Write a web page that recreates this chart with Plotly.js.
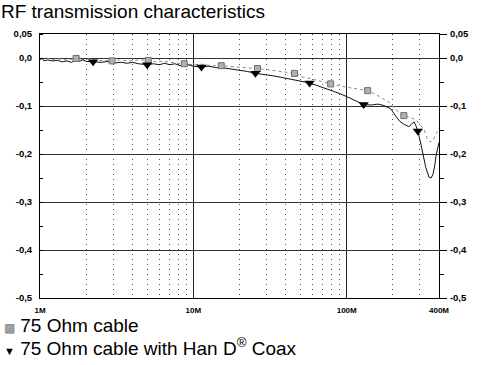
<!DOCTYPE html>
<html>
<head>
<meta charset="utf-8">
<script src="https://cdn.plot.ly/plotly-3.0.1.min.js"></script>
<style>html,body{margin:0;padding:0;background:#fff;}#chart{width:481px;height:365px;}</style>
</head>
<body>
<div id="chart"></div>
<script>
// Frequencies in MHz, attenuation in dB
const coaxFreq = [1.00,1.03,1.06,1.12,1.2,1.3,1.4,1.5,1.6,1.7,1.8,1.9,2.0,2.2,2.5,2.8,3.1,3.4,3.7,4.0,4.4,5.0,5.5,6.0,6.5,7.0,7.6,8.2,9.0,10,11.3,12.5,14,16,18,20,22.5,25.4,29,33,37,41,47,57.3,65,78.6,90,101,115,129,145,160,175,194,209,222,236,254,265,274,282,291,305,314,328,344,355,365,375,382,392,400];
const coaxDb = [-0.004,0.000,-0.006,-0.004,-0.006,-0.005,-0.008,-0.006,-0.009,-0.005,-0.007,-0.004,-0.007,-0.008,-0.009,-0.007,-0.010,-0.009,-0.011,-0.009,-0.012,-0.014,-0.012,-0.014,-0.011,-0.014,-0.012,-0.016,-0.013,-0.017,-0.019,-0.017,-0.020,-0.021,-0.023,-0.025,-0.028,-0.032,-0.034,-0.037,-0.040,-0.043,-0.047,-0.052,-0.058,-0.067,-0.074,-0.081,-0.089,-0.097,-0.098,-0.096,-0.099,-0.106,-0.121,-0.132,-0.138,-0.143,-0.138,-0.133,-0.140,-0.152,-0.180,-0.198,-0.228,-0.248,-0.250,-0.243,-0.225,-0.205,-0.185,-0.176];
const coaxMarkFreq = [2.22,5.0,11.3,25.4,57.3,129,291];
const coaxMarkDb = [-0.008,-0.014,-0.019,-0.032,-0.052,-0.097,-0.152];

const cableFreq = [1.0,1.1,1.2,1.35,1.5,1.72,1.9,2.1,2.4,2.95,3.3,3.8,4.4,5.08,5.7,6.5,7.5,8.73,10,11.5,13,15.2,18,21,26.2,30,35,40,45.7,52,60,70,78.6,90,105,120,137,155,170,190,210,236,260,280,300,320,335,350,365,380,392,400];
const cableDb = [-0.001,0.000,-0.003,-0.002,-0.004,-0.001,-0.003,-0.002,-0.005,-0.006,-0.004,-0.006,-0.004,-0.005,-0.008,-0.007,-0.010,-0.012,-0.014,-0.013,-0.016,-0.016,-0.018,-0.020,-0.022,-0.024,-0.027,-0.029,-0.032,-0.040,-0.044,-0.050,-0.054,-0.058,-0.062,-0.065,-0.068,-0.076,-0.083,-0.093,-0.108,-0.120,-0.124,-0.128,-0.138,-0.150,-0.168,-0.175,-0.172,-0.160,-0.150,-0.146];
const cableMarkFreq = [1.72,2.95,5.08,8.73,15.2,26.2,45.7,78.6,137,236];
const cableMarkDb = [-0.001,-0.006,-0.005,-0.012,-0.016,-0.022,-0.032,-0.054,-0.068,-0.120];

const xTickVals = [1,10,100,400];
const xTickText = ['1M','10M','100M','400M'];
const xMinorVals = [2,3,4,5,6,7,8,9,20,30,40,50,60,70,80,90,200,300];
const yTickVals = [0.05,0,-0.1,-0.2,-0.3,-0.4,-0.5];
const yTickText = ['0,05','0,0','-0,1','-0,2','-0,3','-0,4','-0,5'];

const seriesNames = ['75 Ohm cable','75 Ohm cable with Han D<sup>®</sup> Coax'];
const titleText = 'RF transmission characteristics';

const FONT = 'Liberation Sans, Arial, sans-serif';

const traces = [
  {x: cableFreq, y: cableDb, type:'scatter', mode:'lines', line:{color:'#8a8a8a', width:1, dash:'dot'}, showlegend:false, hoverinfo:'skip'},
  {x: coaxFreq, y: coaxDb, type:'scatter', mode:'lines', line:{color:'#111', width:1}, showlegend:false, hoverinfo:'skip'},
  {x: cableMarkFreq, y: cableMarkDb, type:'scatter', mode:'markers', yaxis:'y2', name: seriesNames[0],
   marker:{symbol:'square', size:6, color:'#b0b0b0', line:{color:'#6e6e6e', width:1}}, showlegend:false},
  {x: coaxMarkFreq, y: coaxMarkDb, type:'scatter', mode:'markers', yaxis:'y2', name: seriesNames[1],
   marker:{symbol:'triangle-down', size:9, color:'#000', line:{width:0}}, showlegend:false}
];

const yCommon = {
  range:[-0.5,0.05], autorange:false, tickmode:'array', tickvals:yTickVals, ticktext:yTickText,
  tickfont:{family:FONT, size:9.5, color:'#000', weight:'bold'}, zeroline:false, fixedrange:true
};

const layout = {
  width:481, height:365,
  margin:{l:40, r:42, t:34, b:67, pad:0},
  paper_bgcolor:'#fff', plot_bgcolor:'#fff',
  font:{family:FONT, color:'#000'},
  showlegend:false,
  title:{text:titleText, font:{family:FONT, size:19, color:'#000'}, x:0.002, xref:'container', xanchor:'left', y:0.97, yref:'container', yanchor:'middle'},
  xaxis:{
    type:'log', range:[0, Math.log10(400)], autorange:false,
    tickmode:'array', tickvals:xTickVals, ticktext:xTickText,
    tickfont:{family:FONT, size:8, color:'#000', weight:'bold'},
    ticks:'', ticklabelstandoff:4,
    showgrid:true, gridcolor:'#222', gridwidth:1,
    showline:true, linecolor:'#000', linewidth:1, mirror:true,
    minor:{tickmode:'array', tickvals:xMinorVals, showgrid:true, gridcolor:'#555', gridwidth:1, griddash:'1px,4px', ticks:''},
    zeroline:false, fixedrange:true
  },
  yaxis:Object.assign({}, yCommon, {
    side:'left', ticks:'', ticklabelstandoff:5,
    showgrid:true, gridcolor:'#333', gridwidth:1,
    showline:true, linecolor:'#000', linewidth:1, mirror:true,
    minor:{tickmode:'linear', tick0:0, dtick:0.05, ticks:'inside', ticklen:3, tickcolor:'#000', showgrid:false}
  }),
  yaxis2:Object.assign({}, yCommon, {
    overlaying:'y', side:'right', matches:'y',
    ticks:'outside', ticklen:7, tickcolor:'#000', tickwidth:1, ticklabelstandoff:1,
    showgrid:false, showline:false,
    minor:{tickmode:'linear', tick0:0, dtick:0.05, ticks:'outside', ticklen:4, tickcolor:'#000', showgrid:false}
  }),
  annotations:[
    {xref:'paper', yref:'paper', x:-0.095, y:(298-325)/264, xanchor:'left', yanchor:'middle', showarrow:false,
     text:'<span style="font-size:12px;color:#777">▩</span> ' + seriesNames[0], font:{family:FONT, size:19, color:'#000'}},
    {xref:'paper', yref:'paper', x:-0.095, y:(298-347)/264, xanchor:'left', yanchor:'middle', showarrow:false,
     text:'<span style="font-size:11px">▼</span> ' + seriesNames[1], font:{family:FONT, size:19, color:'#000'}}
  ]
};

Plotly.newPlot('chart', traces, layout, {staticPlot:true, displayModeBar:false});
</script>
</body>
</html>
